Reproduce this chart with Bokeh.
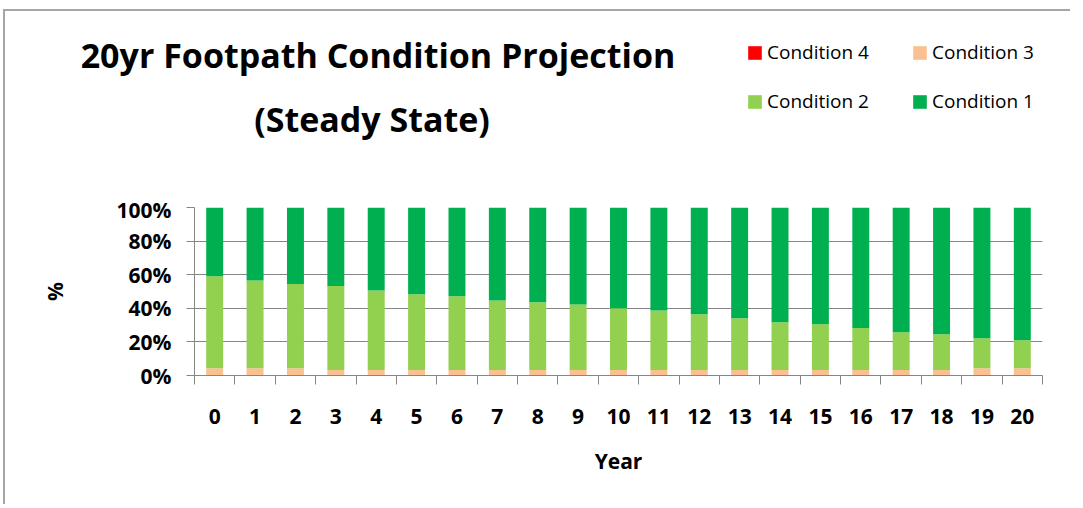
from bokeh.plotting import figure
from bokeh.models import (Range1d, FixedTicker, Legend, LegendItem, Label,
                          ColumnDataSource)
from bokeh.embed import file_html
from bokeh.resources import INLINE

years = list(range(21))
year_labels = [str(y) for y in years]
cond3 = [4.3, 4.3, 4.3, 3.2, 3.2, 3.2, 3.2, 3.2, 3.2, 3.2, 3.2,
         3.2, 3.2, 3.2, 3.2, 3.2, 3.2, 3.2, 3.2, 4.3, 4.3]
cond2_top = [59.1, 56.5, 54.4, 53.2, 50.6, 48.4, 47.2, 44.6, 43.6, 42.3, 40.1,
             38.7, 36.5, 34.1, 31.7, 30.5, 28.2, 25.8, 24.6, 22.2, 21.0]
cond4 = [0.0] * 21
cond2 = [t - b for t, b in zip(cond2_top, cond3)]
cond1 = [100 - t for t in cond2_top]
series_names = ["Condition 4", "Condition 3", "Condition 2", "Condition 1"]
series_colors = ["#FF0000", "#FAC090", "#92D050", "#00B050"]
pct_ticks = [0, 20, 40, 60, 80, 100]
title_lines = ["20yr Footpath Condition Projection", "(Steady State)"]

FONT = "Open Sans"
W = 1067
HH = 186
BORDER = "2px solid #a6a6a6"

# ---------- header: title + legend ----------
h = figure(width=W, height=HH, output_backend="svg", toolbar_location=None,
           title=None, x_range=Range1d(0, W), y_range=Range1d(HH, 0),
           x_axis_location=None, y_axis_location=None,
           min_border=0, min_border_left=0, min_border_right=0,
           min_border_top=0, min_border_bottom=0)
h.outline_line_color = None
h.grid.visible = False
h.styles = {"border-top": BORDER, "border-left": BORDER,
            "margin-top": "9px", "margin-left": "3px"}

h.add_layout(Label(x=372.5, y=43.5, text=title_lines[0], text_font=FONT,
                   text_font_style="bold", text_font_size="34px",
                   text_align="center", text_baseline="alphabetic", text_color="black"))
h.add_layout(Label(x=366.5, y=107, text=title_lines[1], text_font=FONT,
                   text_font_style="bold", text_font_size="34px",
                   text_align="center", text_baseline="alphabetic", text_color="black"))

# legend keys (zero-size stand-ins carrying each series' colour)
dummy = {}
for name, col in zip(series_names, series_colors):
    dummy[name] = h.vbar(x=[0], top=[HH], bottom=[HH], width=0,
                         fill_color=col, line_color=None)

legend = Legend(items=[LegendItem(label=n, renderers=[dummy[n]]) for n in series_names],
                location=(741, 83), orientation="horizontal", ncols=2,
                glyph_width=17, glyph_height=17, label_standoff=4,
                label_text_font=FONT, label_text_font_size="19px",
                label_text_color="black",
                label_width=121, label_height=20, spacing=23, padding=0, margin=0,
                border_line_color=None, background_fill_alpha=0)
h.add_layout(legend, "center")

# ---------- main chart ----------
src = ColumnDataSource(dict(year=years, c4=cond4, c3=cond3, c2=cond2, c1=cond1))
p = figure(width=W, height=309, output_backend="svg", toolbar_location=None,
           title=None, x_range=Range1d(-0.5, 20.5), y_range=Range1d(0, 100),
           min_border_left=189, min_border_right=30, min_border_top=12,
           min_border_bottom=129)
p.outline_line_color = None
p.styles = {"border-left": BORDER, "margin-left": "3px"}

stack_cols = ["c3", "c2", "c1", "c4"]
stack_colors = [series_colors[1], series_colors[2], series_colors[3], series_colors[0]]
p.vbar_stack(stack_cols, x="year", width=0.42, color=stack_colors,
             source=src, line_color=None)

GRAY = "#868686"
p.xaxis.ticker = FixedTicker(ticks=years, minor_ticks=[y - 0.5 for y in years] + [20.5])
p.xaxis.major_label_overrides = {y: l for y, l in zip(years, year_labels)}
p.xaxis.major_tick_out = 0
p.xaxis.major_tick_in = 0
p.xaxis.minor_tick_out = 9
p.xaxis.minor_tick_in = 0
p.xaxis.minor_tick_line_color = GRAY
p.xaxis.axis_line_color = GRAY
p.xaxis.major_label_standoff = 24
p.xaxis.axis_label = "Year"
p.xaxis.axis_label_standoff = 20

p.yaxis.ticker = FixedTicker(ticks=pct_ticks, minor_ticks=[])
p.yaxis.major_label_overrides = {v: f"{v}%" for v in pct_ticks}
p.yaxis.major_tick_out = 8
p.yaxis.major_tick_in = 0
p.yaxis.major_tick_line_color = GRAY
p.yaxis.axis_line_color = GRAY
p.yaxis.major_label_standoff = 15
p.yaxis.axis_label = "%"
p.yaxis.axis_label_standoff = 45

for ax in (p.xaxis, p.yaxis):
    ax.major_label_text_font = FONT
    ax.major_label_text_font_style = "bold"
    ax.major_label_text_font_size = "21px"
    ax.major_label_text_color = "black"
    ax.axis_label_text_font = FONT
    ax.axis_label_text_font_style = "bold"
    ax.axis_label_text_font_size = "21px"
    ax.axis_label_text_color = "black"

p.xgrid.grid_line_color = None
p.ygrid.grid_line_color = GRAY
p.ygrid.grid_line_width = 1

open("out.html", "w").write(file_html([h, p], INLINE))
